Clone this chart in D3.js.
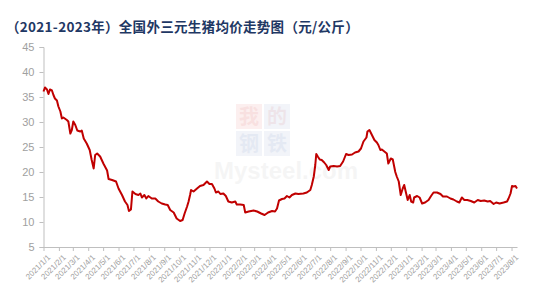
<!DOCTYPE html>
<html>
<head>
<meta charset="utf-8">
<script src="https://cdn.jsdelivr.net/npm/d3@7/dist/d3.min.js"></script>
<style>
  html, body { margin: 0; padding: 0; background: #fff; }
  svg { display: block; }
</style>
</head>
<body>
<svg id="chart" width="554" height="303"></svg>
<script>
const title = "（2021-2023年）全国外三元生猪均价走势图（元/公斤）";

const dates = [
"2021-01-01","2021-01-04","2021-01-08","2021-01-11","2021-01-14","2021-01-18","2021-01-21","2021-01-24","2021-01-28","2021-01-31",
"2021-02-04","2021-02-07","2021-02-10","2021-02-17","2021-02-20","2021-02-24","2021-02-27","2021-03-02","2021-03-06","2021-03-10",
"2021-03-16","2021-03-19","2021-03-23","2021-03-29","2021-04-04","2021-04-08","2021-04-12","2021-04-15","2021-04-19","2021-04-25",
"2021-05-02","2021-05-09","2021-05-12","2021-05-19","2021-05-27","2021-06-01","2021-06-08","2021-06-14","2021-06-19","2021-06-22",
"2021-06-26","2021-06-29","2021-07-05","2021-07-11","2021-07-15","2021-07-18","2021-07-23","2021-07-27","2021-07-31","2021-08-07",
"2021-08-14","2021-08-20","2021-08-27","2021-09-03","2021-09-08","2021-09-13","2021-09-20","2021-09-26","2021-10-03","2021-10-08",
"2021-10-12","2021-10-17","2021-10-20","2021-10-23","2021-10-25","2021-10-30","2021-11-06","2021-11-12","2021-11-19","2021-11-26",
"2021-12-01","2021-12-06","2021-12-11","2021-12-14","2021-12-19","2021-12-23","2021-12-29","2022-01-03","2022-01-08","2022-01-15",
"2022-01-22","2022-01-25","2022-02-01","2022-02-08","2022-02-11","2022-02-18","2022-02-28","2022-03-07","2022-03-15","2022-03-22",
"2022-03-29","2022-04-06","2022-04-12","2022-04-16","2022-04-20","2022-04-26","2022-05-01","2022-05-06","2022-05-11","2022-05-16",
"2022-05-23","2022-05-29","2022-06-08","2022-06-15","2022-06-22","2022-06-25","2022-06-29","2022-07-02","2022-07-04","2022-07-07",
"2022-07-11","2022-07-15","2022-07-20","2022-07-24","2022-07-29","2022-08-01","2022-08-08","2022-08-15","2022-08-21","2022-08-27",
"2022-09-02","2022-09-07","2022-09-14","2022-09-20","2022-09-27","2022-10-02","2022-10-07","2022-10-13","2022-10-15","2022-10-19",
"2022-10-24","2022-10-29","2022-11-03","2022-11-06","2022-11-10","2022-11-13","2022-11-18","2022-11-23","2022-11-26","2022-12-01",
"2022-12-05","2022-12-10","2022-12-13","2022-12-17","2022-12-21","2022-12-25","2022-12-28","2022-12-31","2023-01-04","2023-01-08",
"2023-01-11","2023-01-15","2023-01-17","2023-01-23","2023-01-28","2023-02-02","2023-02-08","2023-02-15","2023-02-20","2023-02-25",
"2023-03-04","2023-03-11","2023-03-16","2023-03-24","2023-03-31","2023-04-06","2023-04-13","2023-04-18","2023-04-23","2023-04-28",
"2023-05-04","2023-05-11","2023-05-18","2023-05-25","2023-05-31","2023-06-07","2023-06-14","2023-06-19","2023-06-26","2023-07-01",
"2023-07-08","2023-07-16","2023-07-23","2023-07-26","2023-07-30","2023-08-02","2023-08-05","2023-08-09","2023-08-12"
];

const prices = [
36.1,36.9,36.5,35.6,36.5,36.3,35.4,34.7,34.3,33.1,
32.1,30.7,30.9,30.4,30.1,27.7,28.4,30.1,29.4,28.3,
28.1,28.3,26.7,25.7,24.4,22.4,20.7,23.4,23.7,23.1,
21.6,20.3,18.6,18.4,18.1,16.7,15.4,14.1,13.4,12.2,
12.5,16.1,15.6,15.4,15.7,14.9,15.4,14.7,15.2,14.7,
14.7,14.1,13.7,13.5,13.4,12.4,11.9,10.7,10.2,10.4,
11.7,13.1,14.1,15.4,16.4,16.1,16.7,17.2,17.4,18.1,
17.6,17.6,16.7,15.9,16.1,15.6,15.7,15.2,14.1,13.9,
14.1,13.5,13.5,13.4,11.9,12.1,12.3,12.1,11.7,11.4,
11.9,12.2,12.1,12.7,14.3,14.6,14.7,15.2,14.9,15.4,
15.7,15.6,15.7,15.9,16.4,17.4,19.1,21.4,23.6,23.1,
22.5,22.4,21.9,21.4,20.4,21.1,21.2,21.1,21.2,22.1,
23.6,23.4,23.5,23.9,24.1,24.7,26.1,26.9,28.1,28.4,
27.4,26.4,25.9,25.4,24.4,24.5,24.1,23.7,21.7,22.7,
22.5,20.0,19.1,18.1,15.4,16.7,17.4,16.1,14.4,15.4,
14.1,13.9,14.9,15.2,14.9,13.7,13.9,14.4,15.2,15.9,
15.9,15.6,15.1,15.1,14.7,14.5,14.1,13.9,14.9,14.4,
14.4,14.2,13.9,14.4,14.2,14.3,14.1,14.2,13.6,13.9,
13.7,13.9,14.1,14.7,15.7,17.2,17.1,17.2,16.7
];

const yTicks = [5, 10, 15, 20, 25, 30, 35, 40, 45];
const xStart = "2021-01-01";
const xEnd = "2023-08-12";

const parse = d3.timeParse("%Y-%m-%d");
const data = dates.map((d, i) => ({ date: parse(d), value: prices[i] }));

const svg = d3.select("#chart");
const mLeft = 43.5, mRight = 517, mTop = 47, mBottom = 247;

const x = d3.scaleTime().domain([parse(xStart), parse(xEnd)]).range([mLeft, mRight]);
const y = d3.scaleLinear().domain([5, 45]).range([mBottom, mTop]);

// watermark
const wm = svg.append("g");
const wmChars = [["我", "#c00000", "#fcefef"], ["的", "#c00000", "#f2f4f9"], ["钢", "#1f4e99", "#f2f4f9"], ["铁", "#1f4e99", "#f2f4f9"]];
wmChars.forEach((c, i) => {
  const cx = 236 + (i % 2) * 28, cy = 104 + Math.floor(i / 2) * 27;
  wm.append("rect").attr("x", cx).attr("y", cy).attr("width", 26).attr("height", 25)
    .attr("fill", c[2]);
  wm.append("text").attr("x", cx + 13).attr("y", cy + 20).attr("text-anchor", "middle")
    .attr("font-family", "Noto Sans CJK SC").attr("font-weight", "bold").attr("font-size", 20)
    .attr("fill", c[1]).attr("opacity", 0.06).text(c[0]);
});
svg.append("text").attr("x", 214).attr("y", 179)
  .attr("font-family", "Liberation Sans, Arial, sans-serif").attr("font-weight", "bold")
  .attr("font-size", 24).attr("fill", "#000").attr("opacity", 0.035).text("Mysteel.com");

// title
svg.append("text")
  .attr("x", 6).attr("y", 32)
  .attr("font-family", "Noto Sans CJK SC, sans-serif")
  .attr("font-weight", "bold").attr("font-size", 13.5)
  .attr("letter-spacing", 0.3)
  .attr("fill", "#1f3864")
  .text(title);

// y axis
const yAxis = svg.append("g")
  .attr("transform", `translate(${mLeft},0)`)
  .call(d3.axisLeft(y).tickValues(yTicks).tickSize(4).tickPadding(5));
yAxis.selectAll("path, line").attr("stroke", "#bfbfbf");
yAxis.selectAll("text").attr("fill", "#a0a0a0").attr("font-size", 11)
  .attr("font-family", "Liberation Sans, Arial, sans-serif");

// x axis
const xAxis = svg.append("g")
  .attr("transform", `translate(0,${mBottom})`)
  .call(d3.axisBottom(x).ticks(d3.timeMonth.every(1)).tickFormat(d3.timeFormat("%Y/%-m/%-d")).tickSize(4).tickSizeOuter(0));
xAxis.selectAll("path, line").attr("stroke", "#bfbfbf");
xAxis.selectAll("text")
  .attr("fill", "#a0a0a0").attr("font-size", 8)
  .attr("font-family", "Liberation Sans, Arial, sans-serif")
  .attr("text-anchor", "end")
  .attr("dx", 0).attr("dy", 0)
  .attr("transform", "translate(2,6) rotate(-45)");

// line
svg.append("path")
  .datum(data)
  .attr("fill", "none")
  .attr("stroke", "#c00000")
  .attr("stroke-width", 2)
  .attr("stroke-linejoin", "round")
  .attr("d", d3.line().x(d => x(d.date)).y(d => y(d.value)));
</script>
</body>
</html>
